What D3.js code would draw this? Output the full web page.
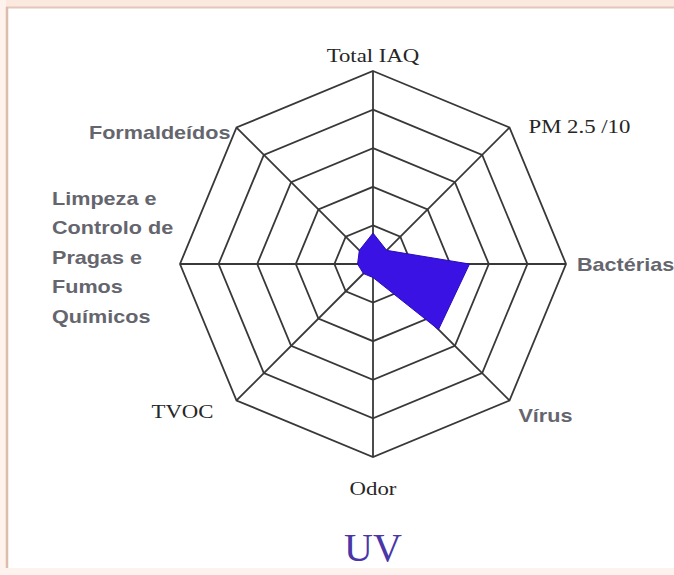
<!DOCTYPE html>
<html>
<head>
<meta charset="utf-8">
<script src="https://cdn.jsdelivr.net/npm/d3@7"></script>
<style>
  body { margin: 0; background: #fff; }
  svg { display: block; }
</style>
</head>
<body>
<svg id="chart" width="674" height="575"></svg>
<script>
// eixos do radar (sentido horario a partir do topo)
var categories = ["Total IAQ", "PM 2.5 /10", "Bactérias", "Vírus", "Odor", "TVOC",
    "Limpeza e|Controlo de|Pragas e|Fumos|Químicos", "Formaldeídos"];
// fonte de cada rotulo: serif (Times) ou sans (Arial)
var labelFonts = ["serif", "serif", "sans", "sans", "serif", "serif", "sans", "sans"];
// valores UV (0..5)
var uvValues = [0.8, 0.5, 2.5, 2.4, 0.35, 0.35, 0.4, 0.5];
var levels = [1, 2, 3, 4, 5];
var title = "UV";

var svg = d3.select("#chart");
var cx = 373, cy = 264;
var n = categories.length;

// moldura da imagem
svg.append("rect").attr("x", 0).attr("y", 0).attr("width", 674).attr("height", 7).attr("fill", "#fbe9df");
svg.append("rect").attr("x", 0).attr("y", 0).attr("width", 6).attr("height", 575).attr("fill", "#fdf3ec");
svg.append("rect").attr("x", 0).attr("y", 568).attr("width", 674).attr("height", 7).attr("fill", "#fdf3ee");
svg.append("line").attr("x1", 6).attr("x2", 674).attr("y1", 7.5).attr("y2", 7.5)
    .attr("stroke", "#e2c7ba").attr("stroke-width", 2);
svg.append("line").attr("x1", 7).attr("x2", 7).attr("y1", 7).attr("y2", 568)
    .attr("stroke", "#dcbcac").attr("stroke-width", 2.5);

var r = d3.scaleLinear().domain([0, 5]).range([0, 193]);
var angle = d3.scaleLinear().domain([0, n]).range([0, 2 * Math.PI]);

var g = svg.append("g").attr("transform", "translate(" + cx + "," + cy + ")");

var radial = d3.lineRadial()
    .angle(function (d, i) { return angle(i); })
    .radius(function (d) { return r(d); })
    .curve(d3.curveLinearClosed);

// aneis (octogonos)
g.selectAll("path.ring")
    .data(levels)
    .enter().append("path")
    .attr("class", "ring")
    .attr("d", function (lv) { return radial(categories.map(function () { return lv; })); })
    .attr("fill", "none")
    .attr("stroke", "#383838")
    .attr("stroke-width", 1.8);

// raios
g.selectAll("line.spoke")
    .data(categories)
    .enter().append("line")
    .attr("class", "spoke")
    .attr("x1", 0).attr("y1", 0)
    .attr("x2", function (d, i) { return r(5) * Math.sin(angle(i)); })
    .attr("y2", function (d, i) { return -r(5) * Math.cos(angle(i)); })
    .attr("stroke", "#383838")
    .attr("stroke-width", 1.8);

// area UV
g.append("path")
    .datum(uvValues)
    .attr("d", radial)
    .attr("fill", "#3b12e4")
    .attr("stroke", "#2a0bb8")
    .attr("stroke-width", 1);

// rotulos
function vx(i) { return cx + r(5) * Math.sin(angle(i)); }
function vy(i) { return cy - r(5) * Math.cos(angle(i)); }

var labelPos = [
    { dx: 0, dy: -9, anchor: "middle" },
    { dx: 19, dy: 5, anchor: "start" },
    { dx: 11, dy: 7, anchor: "start" },
    { dx: 9, dy: 22, anchor: "start" },
    { dx: 0, dy: 38, anchor: "middle" },
    { dx: -23, dy: 18, anchor: "end" },
    { dx: 0, dy: 0, anchor: "start" },
    { dx: -6, dy: 11, anchor: "end" }
];

categories.forEach(function (c, i) {
    var p = labelPos[i];
    var x = vx(i) + p.dx, y = vy(i) + p.dy;
    var serif = labelFonts[i] === "serif";
    var lines = c.split("|");
    var t = svg.append("text")
        .attr("text-anchor", p.anchor)
        .attr("font-family", serif ? "'Liberation Serif', 'Times New Roman', serif" : "'Liberation Sans', Arial, sans-serif")
        .attr("font-weight", serif ? "normal" : "bold")
        .attr("font-size", serif ? 19 : 18)
        .attr("fill", serif ? "#262626" : "#65656e");
    if (lines.length > 1) {
        x = 52; y = 205;
        lines.forEach(function (l, k) {
            t.append("tspan").attr("x", 0).attr("y", k * 29.5).text(l);
        });
    } else {
        t.text(c);
    }
    t.attr("transform", "translate(" + x + "," + y + ") scale(1.2,1)");
});

svg.append("text")
    .attr("x", cx).attr("y", 561)
    .attr("text-anchor", "middle")
    .attr("font-family", "'Liberation Serif', 'Times New Roman', serif")
    .attr("font-size", 40)
    .attr("fill", "#4a36a6")
    .text(title);
</script>
</body>
</html>
